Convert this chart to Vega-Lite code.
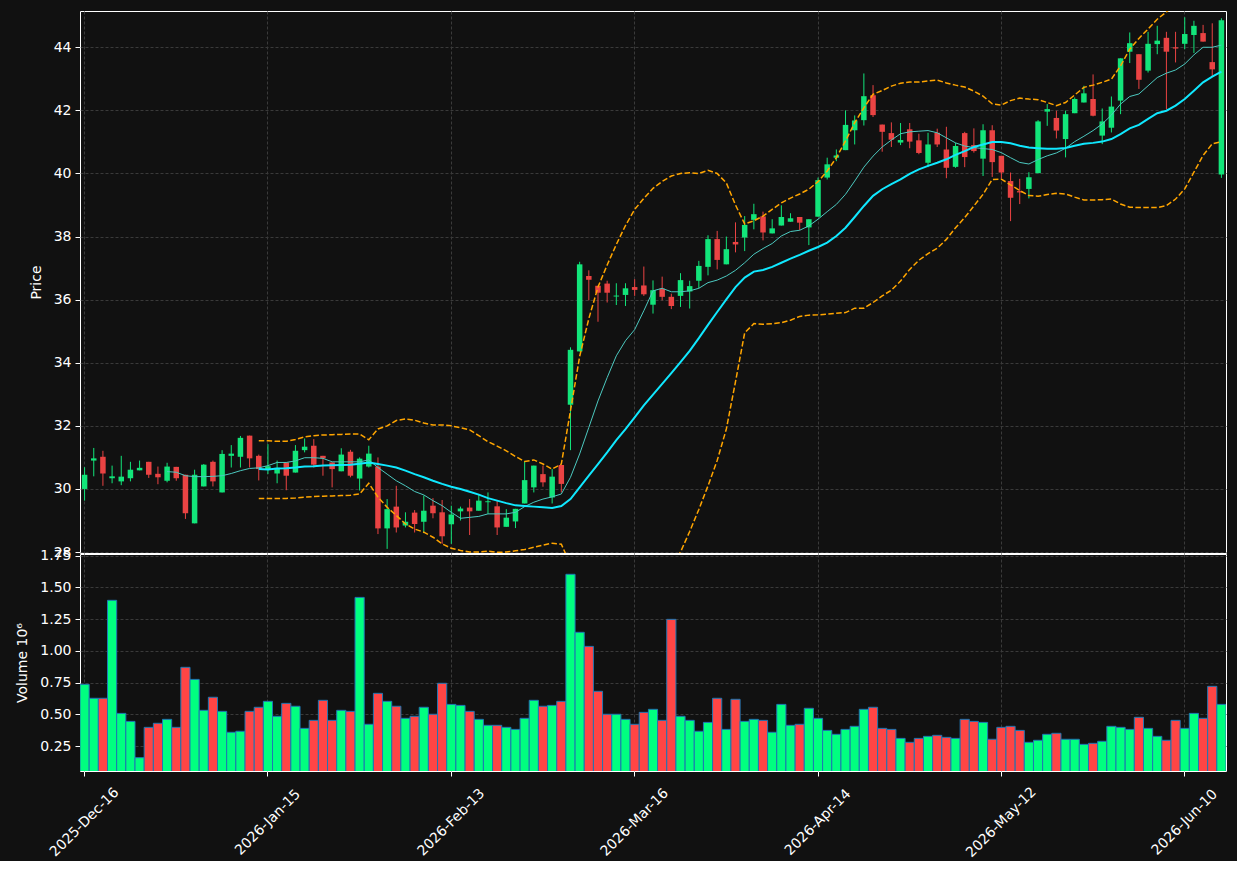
{
"$schema":"https://vega.github.io/schema/vega-lite/v6.json",
"background":"#111111",
"padding":{"left":15,"top":10,"right":11,"bottom":0},
"bounds":"flush",
"datasets":{"px":[
{"d":"2025-Dec-16","o":30.00,"h":30.69,"l":29.63,"c":30.45,"v":0.736},
{"d":"2025-Dec-17","o":30.90,"h":31.30,"l":30.40,"c":30.97,"v":0.626},
{"d":"2025-Dec-18","o":31.02,"h":31.21,"l":30.10,"c":30.49,"v":0.626},
{"d":"2025-Dec-19","o":30.34,"h":30.74,"l":30.18,"c":30.40,"v":1.398},
{"d":"2025-Dec-22","o":30.24,"h":31.05,"l":30.12,"c":30.39,"v":0.507},
{"d":"2025-Dec-23","o":30.34,"h":30.86,"l":30.24,"c":30.61,"v":0.444},
{"d":"2025-Dec-24","o":30.59,"h":30.90,"l":30.59,"c":30.67,"v":0.158},
{"d":"2025-Dec-26","o":30.86,"h":30.86,"l":30.35,"c":30.45,"v":0.397},
{"d":"2025-Dec-29","o":30.48,"h":30.71,"l":30.15,"c":30.37,"v":0.429},
{"d":"2025-Dec-30","o":30.26,"h":30.83,"l":30.21,"c":30.71,"v":0.460,"m10":30.55},
{"d":"2025-Dec-31","o":30.70,"h":30.70,"l":30.26,"c":30.34,"v":0.397,"m10":30.53},
{"d":"2026-Jan-02","o":30.45,"h":30.45,"l":29.05,"c":29.23,"v":0.870,"m10":30.42},
{"d":"2026-Jan-05","o":28.91,"h":30.61,"l":28.91,"c":30.45,"v":0.775,"m10":30.39},
{"d":"2026-Jan-06","o":30.08,"h":30.79,"l":30.08,"c":30.77,"v":0.531,"m10":30.39},
{"d":"2026-Jan-07","o":30.86,"h":30.90,"l":30.08,"c":30.24,"v":0.634,"m10":30.40},
{"d":"2026-Jan-08","o":29.89,"h":31.23,"l":29.89,"c":31.11,"v":0.523,"m10":30.42},
{"d":"2026-Jan-09","o":31.05,"h":31.39,"l":30.68,"c":31.12,"v":0.358,"m10":30.49},
{"d":"2026-Jan-12","o":31.02,"h":31.68,"l":30.68,"c":31.62,"v":0.366,"m10":30.58},
{"d":"2026-Jan-13","o":31.69,"h":31.69,"l":30.68,"c":30.97,"v":0.523,"m10":30.65},
{"d":"2026-Jan-14","o":31.05,"h":31.09,"l":30.27,"c":30.63,"v":0.555,"m10":30.67,"m20":30.63,"bu":31.53,"bl":29.70},
{"d":"2026-Jan-15","o":30.63,"h":31.42,"l":30.47,"c":30.72,"v":0.602,"m10":30.74,"m20":30.62,"bu":31.53,"bl":29.70},
{"d":"2026-Jan-16","o":30.49,"h":30.90,"l":30.18,"c":30.67,"v":0.484,"m10":30.84,"m20":30.65,"bu":31.51,"bl":29.70},
{"d":"2026-Jan-20","o":30.84,"h":30.84,"l":29.96,"c":30.42,"v":0.586,"m10":30.84,"m20":30.66,"bu":31.51,"bl":29.70},
{"d":"2026-Jan-21","o":30.52,"h":31.39,"l":30.52,"c":31.21,"v":0.563,"m10":30.89,"m20":30.68,"bu":31.57,"bl":29.71},
{"d":"2026-Jan-22","o":31.23,"h":31.60,"l":31.16,"c":31.34,"v":0.389,"m10":30.99,"m20":30.71,"bu":31.65,"bl":29.74},
{"d":"2026-Jan-23","o":31.37,"h":31.58,"l":30.68,"c":30.77,"v":0.452,"m10":30.99,"m20":30.72,"bu":31.69,"bl":29.76},
{"d":"2026-Jan-26","o":31.05,"h":31.05,"l":30.42,"c":30.97,"v":0.610,"m10":30.97,"m20":30.74,"bu":31.71,"bl":29.77},
{"d":"2026-Jan-27","o":30.84,"h":30.84,"l":30.05,"c":30.63,"v":0.452,"m10":30.86,"m20":30.75,"bu":31.72,"bl":29.78},
{"d":"2026-Jan-28","o":30.56,"h":31.29,"l":30.56,"c":31.09,"v":0.531,"m10":30.86,"m20":30.76,"bu":31.73,"bl":29.79},
{"d":"2026-Jan-29","o":31.18,"h":31.24,"l":30.37,"c":30.42,"v":0.523,"m10":30.86,"m20":30.77,"bu":31.74,"bl":29.80},
{"d":"2026-Jan-30","o":30.33,"h":31.00,"l":29.95,"c":30.96,"v":1.421,"m10":30.86,"m20":30.80,"bu":31.74,"bl":29.84},
{"d":"2026-Feb-02","o":30.71,"h":31.37,"l":30.68,"c":31.12,"v":0.421,"m10":30.92,"m20":30.84,"bu":31.56,"bl":30.18},
{"d":"2026-Feb-03","o":30.71,"h":31.00,"l":28.57,"c":28.75,"v":0.665,"m10":30.68,"m20":30.79,"bu":31.90,"bl":29.74},
{"d":"2026-Feb-04","o":28.75,"h":29.68,"l":28.10,"c":29.36,"v":0.602,"m10":30.47,"m20":30.74,"bu":32.00,"bl":29.42},
{"d":"2026-Feb-05","o":29.44,"h":30.10,"l":28.62,"c":28.78,"v":0.563,"m10":30.26,"m20":30.68,"bu":32.17,"bl":29.16},
{"d":"2026-Feb-06","o":28.84,"h":29.26,"l":28.78,"c":28.96,"v":0.468,"m10":30.10,"m20":30.58,"bu":32.22,"bl":28.89},
{"d":"2026-Feb-09","o":29.25,"h":29.33,"l":28.62,"c":28.89,"v":0.484,"m10":29.92,"m20":30.47,"bu":32.18,"bl":28.73},
{"d":"2026-Feb-10","o":28.96,"h":29.79,"l":28.60,"c":29.31,"v":0.555,"m10":29.81,"m20":30.37,"bu":32.09,"bl":28.63},
{"d":"2026-Feb-11","o":29.47,"h":29.71,"l":29.07,"c":29.23,"v":0.500,"m10":29.63,"m20":30.26,"bu":32.03,"bl":28.47},
{"d":"2026-Feb-12","o":29.26,"h":29.65,"l":28.26,"c":28.50,"v":0.744,"m10":29.47,"m20":30.16,"bu":32.03,"bl":28.26},
{"d":"2026-Feb-13","o":28.88,"h":29.47,"l":28.26,"c":29.19,"v":0.578,"m10":29.26,"m20":30.07,"bu":32.00,"bl":28.12},
{"d":"2026-Feb-17","o":29.29,"h":29.44,"l":29.00,"c":29.38,"v":0.570,"m10":29.07,"m20":30.00,"bu":31.94,"bl":28.05},
{"d":"2026-Feb-18","o":29.41,"h":29.68,"l":28.54,"c":29.29,"v":0.523,"m10":29.10,"m20":29.91,"bu":31.87,"bl":28.00},
{"d":"2026-Feb-19","o":29.31,"h":29.81,"l":29.31,"c":29.63,"v":0.460,"m10":29.13,"m20":29.82,"bu":31.69,"bl":28.00},
{"d":"2026-Feb-20","o":29.58,"h":29.89,"l":29.21,"c":29.61,"v":0.413,"m10":29.21,"m20":29.71,"bu":31.50,"bl":28.03},
{"d":"2026-Feb-23","o":29.45,"h":29.63,"l":28.54,"c":28.78,"v":0.413,"m10":29.21,"m20":29.63,"bu":31.36,"bl":27.99},
{"d":"2026-Feb-24","o":28.80,"h":29.36,"l":28.80,"c":29.09,"v":0.397,"m10":29.21,"m20":29.55,"bu":31.21,"bl":28.00},
{"d":"2026-Feb-25","o":28.97,"h":29.37,"l":28.76,"c":29.37,"v":0.381,"m10":29.26,"m20":29.48,"bu":31.03,"bl":28.04},
{"d":"2026-Feb-26","o":29.54,"h":30.87,"l":29.54,"c":30.28,"v":0.468,"m10":29.44,"m20":29.46,"bu":30.87,"bl":28.08},
{"d":"2026-Feb-27","o":30.05,"h":30.74,"l":29.89,"c":30.74,"v":0.610,"m10":29.58,"m20":29.44,"bu":30.92,"bl":28.15},
{"d":"2026-Mar-02","o":30.47,"h":30.74,"l":30.07,"c":30.21,"v":0.563,"m10":29.68,"m20":29.42,"bu":30.79,"bl":28.22},
{"d":"2026-Mar-03","o":29.73,"h":30.63,"l":29.54,"c":30.39,"v":0.570,"m10":29.75,"m20":29.40,"bu":30.63,"bl":28.28},
{"d":"2026-Mar-04","o":30.76,"h":30.76,"l":29.89,"c":30.16,"v":0.602,"m10":29.84,"m20":29.46,"bu":30.79,"bl":28.25},
{"d":"2026-Mar-05","o":32.67,"h":34.49,"l":31.23,"c":34.41,"v":1.603,"m10":30.37,"m20":29.68,"bu":32.48,"bl":27.60},
{"d":"2026-Mar-06","o":34.36,"h":37.20,"l":34.36,"c":37.12,"v":1.146,"m10":31.11,"m20":30.05,"bu":34.20,"bl":26.80},
{"d":"2026-Mar-09","o":36.75,"h":36.93,"l":35.98,"c":36.63,"v":1.035,"m10":31.95,"m20":30.42,"bu":35.40,"bl":26.00},
{"d":"2026-Mar-10","o":36.44,"h":36.44,"l":35.30,"c":36.22,"v":0.681,"m10":32.79,"m20":30.79,"bu":36.40,"bl":25.60},
{"d":"2026-Mar-11","o":36.51,"h":36.60,"l":35.91,"c":36.22,"v":0.500,"m10":33.53,"m20":31.16,"bu":37.10,"bl":25.40},
{"d":"2026-Mar-12","o":36.10,"h":36.52,"l":35.83,"c":36.13,"v":0.500,"m10":34.22,"m20":31.55,"bu":37.75,"bl":25.40},
{"d":"2026-Mar-13","o":36.15,"h":36.52,"l":35.80,"c":36.36,"v":0.460,"m10":34.70,"m20":31.90,"bu":38.35,"bl":25.60},
{"d":"2026-Mar-16","o":36.40,"h":36.65,"l":36.12,"c":36.31,"v":0.421,"m10":35.05,"m20":32.27,"bu":38.86,"bl":25.90},
{"d":"2026-Mar-17","o":36.45,"h":37.05,"l":36.12,"c":36.17,"v":0.515,"m10":35.65,"m20":32.65,"bu":39.21,"bl":26.30},
{"d":"2026-Mar-18","o":35.84,"h":36.61,"l":35.56,"c":36.30,"v":0.539,"m10":36.28,"m20":32.99,"bu":39.53,"bl":26.70},
{"d":"2026-Mar-19","o":36.35,"h":36.73,"l":35.98,"c":36.09,"v":0.452,"m10":36.36,"m20":33.33,"bu":39.75,"bl":27.10},
{"d":"2026-Mar-20","o":36.09,"h":36.19,"l":35.70,"c":35.80,"v":1.248,"m10":36.25,"m20":33.67,"bu":39.92,"bl":27.60},
{"d":"2026-Mar-23","o":36.12,"h":36.84,"l":35.77,"c":36.62,"v":0.484,"m10":36.25,"m20":34.02,"bu":40.00,"bl":28.00},
{"d":"2026-Mar-24","o":36.26,"h":36.60,"l":35.72,"c":36.43,"v":0.452,"m10":36.28,"m20":34.38,"bu":40.02,"bl":28.65},
{"d":"2026-Mar-25","o":36.60,"h":37.23,"l":36.36,"c":37.07,"v":0.366,"m10":36.36,"m20":34.78,"bu":40.00,"bl":29.35},
{"d":"2026-Mar-26","o":37.04,"h":38.04,"l":36.77,"c":37.92,"v":0.436,"m10":36.54,"m20":35.20,"bu":40.10,"bl":30.10},
{"d":"2026-Mar-27","o":37.92,"h":38.18,"l":36.96,"c":37.26,"v":0.626,"m10":36.62,"m20":35.61,"bu":40.00,"bl":30.90},
{"d":"2026-Mar-30","o":37.12,"h":38.00,"l":37.12,"c":37.60,"v":0.381,"m10":36.75,"m20":36.01,"bu":39.70,"bl":31.90},
{"d":"2026-Mar-31","o":37.83,"h":38.45,"l":37.50,"c":37.75,"v":0.618,"m10":36.93,"m20":36.40,"bu":39.00,"bl":33.40},
{"d":"2026-Apr-01","o":37.97,"h":38.65,"l":37.54,"c":38.37,"v":0.444,"m10":37.17,"m20":36.70,"bu":38.40,"bl":34.95},
{"d":"2026-Apr-02","o":38.53,"h":39.04,"l":38.23,"c":38.71,"v":0.460,"m10":37.44,"m20":36.89,"bu":38.50,"bl":35.24},
{"d":"2026-Apr-06","o":38.64,"h":38.79,"l":37.88,"c":38.13,"v":0.452,"m10":37.62,"m20":36.94,"bu":38.65,"bl":35.22},
{"d":"2026-Apr-07","o":38.10,"h":38.55,"l":38.10,"c":38.26,"v":0.358,"m10":37.78,"m20":37.04,"bu":38.86,"bl":35.24},
{"d":"2026-Apr-08","o":38.35,"h":38.99,"l":38.35,"c":38.62,"v":0.578,"m10":38.02,"m20":37.17,"bu":39.07,"bl":35.27},
{"d":"2026-Apr-09","o":38.47,"h":38.74,"l":38.47,"c":38.58,"v":0.413,"m10":38.16,"m20":37.30,"bu":39.22,"bl":35.35},
{"d":"2026-Apr-10","o":38.62,"h":38.62,"l":38.20,"c":38.44,"v":0.421,"m10":38.20,"m20":37.42,"bu":39.35,"bl":35.47},
{"d":"2026-Apr-13","o":38.29,"h":38.55,"l":37.73,"c":38.55,"v":0.547,"m10":38.34,"m20":37.55,"bu":39.50,"bl":35.51},
{"d":"2026-Apr-14","o":38.63,"h":39.87,"l":38.63,"c":39.79,"v":0.468,"m10":38.55,"m20":37.67,"bu":39.74,"bl":35.52},
{"d":"2026-Apr-15","o":39.87,"h":40.50,"l":39.81,"c":40.29,"v":0.373,"m10":38.79,"m20":37.81,"bu":40.08,"bl":35.54},
{"d":"2026-Apr-16","o":40.50,"h":40.76,"l":40.39,"c":40.57,"v":0.342,"m10":39.02,"m20":38.02,"bu":40.50,"bl":35.57},
{"d":"2026-Apr-17","o":40.74,"h":42.00,"l":40.74,"c":41.54,"v":0.381,"m10":39.34,"m20":38.28,"bu":41.03,"bl":35.59},
{"d":"2026-Apr-20","o":41.37,"h":41.84,"l":40.92,"c":41.68,"v":0.405,"m10":39.76,"m20":38.62,"bu":41.61,"bl":35.73},
{"d":"2026-Apr-21","o":41.69,"h":43.17,"l":41.52,"c":42.45,"v":0.539,"m10":40.20,"m20":38.97,"bu":42.08,"bl":35.73},
{"d":"2026-Apr-22","o":42.48,"h":42.80,"l":41.79,"c":41.85,"v":0.555,"m10":40.55,"m20":39.29,"bu":42.51,"bl":35.91},
{"d":"2026-Apr-23","o":41.55,"h":41.55,"l":40.69,"c":41.32,"v":0.389,"m10":40.84,"m20":39.50,"bu":42.63,"bl":36.12},
{"d":"2026-Apr-24","o":41.28,"h":41.62,"l":40.84,"c":41.07,"v":0.381,"m10":41.06,"m20":39.66,"bu":42.77,"bl":36.30},
{"d":"2026-Apr-27","o":40.98,"h":41.60,"l":40.90,"c":41.06,"v":0.310,"m10":41.26,"m20":39.81,"bu":42.86,"bl":36.59},
{"d":"2026-Apr-28","o":41.40,"h":41.60,"l":40.80,"c":41.01,"v":0.279,"m10":41.32,"m20":39.99,"bu":42.90,"bl":36.96},
{"d":"2026-Apr-29","o":41.05,"h":41.26,"l":40.61,"c":40.65,"v":0.310,"m10":41.34,"m20":40.13,"bu":42.90,"bl":37.25},
{"d":"2026-Apr-30","o":40.34,"h":41.29,"l":40.20,"c":40.92,"v":0.326,"m10":41.36,"m20":40.24,"bu":42.93,"bl":37.46},
{"d":"2026-May-01","o":41.29,"h":41.42,"l":40.84,"c":40.92,"v":0.334,"m10":41.29,"m20":40.34,"bu":42.96,"bl":37.63},
{"d":"2026-May-04","o":40.76,"h":41.48,"l":39.85,"c":40.18,"v":0.318,"m10":41.13,"m20":40.45,"bu":42.87,"bl":37.91},
{"d":"2026-May-05","o":40.21,"h":40.97,"l":40.18,"c":40.87,"v":0.310,"m10":40.97,"m20":40.59,"bu":42.80,"bl":38.28},
{"d":"2026-May-06","o":41.28,"h":41.32,"l":40.20,"c":40.52,"v":0.460,"m10":40.87,"m20":40.71,"bu":42.74,"bl":38.60},
{"d":"2026-May-07","o":40.90,"h":41.43,"l":40.66,"c":40.71,"v":0.444,"m10":40.82,"m20":40.84,"bu":42.61,"bl":38.97},
{"d":"2026-May-08","o":40.47,"h":41.56,"l":39.92,"c":41.37,"v":0.436,"m10":40.79,"m20":40.92,"bu":42.45,"bl":39.34},
{"d":"2026-May-11","o":41.37,"h":41.53,"l":39.89,"c":40.36,"v":0.303,"m10":40.76,"m20":41.00,"bu":42.21,"bl":39.81},
{"d":"2026-May-12","o":40.56,"h":40.56,"l":39.84,"c":40.03,"v":0.397,"m10":40.66,"m20":41.00,"bu":42.17,"bl":39.82},
{"d":"2026-May-13","o":39.76,"h":40.03,"l":38.49,"c":39.23,"v":0.405,"m10":40.50,"m20":40.96,"bu":42.31,"bl":39.64},
{"d":"2026-May-14","o":39.44,"h":39.83,"l":39.03,"c":39.40,"v":0.373,"m10":40.35,"m20":40.88,"bu":42.39,"bl":39.46},
{"d":"2026-May-15","o":39.51,"h":40.04,"l":39.21,"c":39.88,"v":0.279,"m10":40.30,"m20":40.82,"bu":42.36,"bl":39.30},
{"d":"2026-May-18","o":40.01,"h":41.69,"l":40.01,"c":41.65,"v":0.295,"m10":40.44,"m20":40.80,"bu":42.34,"bl":39.28},
{"d":"2026-May-19","o":41.96,"h":42.20,"l":41.51,"c":42.04,"v":0.342,"m10":40.56,"m20":40.78,"bu":42.25,"bl":39.33},
{"d":"2026-May-20","o":41.76,"h":41.99,"l":41.11,"c":41.36,"v":0.350,"m10":40.65,"m20":40.78,"bu":42.15,"bl":39.37},
{"d":"2026-May-21","o":41.09,"h":41.99,"l":40.51,"c":41.88,"v":0.303,"m10":40.80,"m20":40.81,"bu":42.25,"bl":39.35},
{"d":"2026-May-22","o":41.91,"h":42.41,"l":41.91,"c":42.36,"v":0.303,"m10":41.01,"m20":40.88,"bu":42.49,"bl":39.25},
{"d":"2026-May-26","o":42.25,"h":42.78,"l":42.25,"c":42.54,"v":0.263,"m10":41.18,"m20":40.94,"bu":42.73,"bl":39.16},
{"d":"2026-May-27","o":42.36,"h":43.14,"l":41.81,"c":41.83,"v":0.271,"m10":41.36,"m20":40.97,"bu":42.80,"bl":39.16},
{"d":"2026-May-28","o":41.20,"h":42.06,"l":40.93,"c":41.65,"v":0.287,"m10":41.57,"m20":41.01,"bu":42.89,"bl":39.17},
{"d":"2026-May-29","o":41.45,"h":42.44,"l":41.30,"c":42.12,"v":0.405,"m10":41.85,"m20":41.09,"bu":42.99,"bl":39.19},
{"d":"2026-Jun-01","o":42.31,"h":43.65,"l":41.88,"c":43.65,"v":0.397,"m10":42.20,"m20":41.25,"bu":43.41,"bl":39.03},
{"d":"2026-Jun-02","o":43.86,"h":44.47,"l":43.50,"c":44.13,"v":0.381,"m10":42.44,"m20":41.43,"bu":43.94,"bl":38.93},
{"d":"2026-Jun-03","o":43.78,"h":43.78,"l":42.68,"c":42.97,"v":0.476,"m10":42.52,"m20":41.54,"bu":44.28,"bl":38.92},
{"d":"2026-Jun-04","o":43.26,"h":44.49,"l":43.20,"c":44.11,"v":0.389,"m10":42.78,"m20":41.73,"bu":44.58,"bl":38.92},
{"d":"2026-Jun-05","o":44.10,"h":44.68,"l":43.78,"c":44.21,"v":0.326,"m10":43.04,"m20":41.91,"bu":44.89,"bl":38.92},
{"d":"2026-Jun-08","o":44.30,"h":44.49,"l":42.04,"c":43.86,"v":0.295,"m10":43.18,"m20":41.99,"bu":45.12,"bl":38.98},
{"d":"2026-Jun-09","o":44.00,"h":44.49,"l":43.52,"c":43.96,"v":0.452,"m10":43.28,"m20":42.15,"bu":45.35,"bl":39.19},
{"d":"2026-Jun-10","o":44.11,"h":44.95,"l":43.94,"c":44.42,"v":0.389,"m10":43.47,"m20":42.36,"bu":45.55,"bl":39.51},
{"d":"2026-Jun-11","o":44.39,"h":44.84,"l":43.82,"c":44.68,"v":0.507,"m10":43.76,"m20":42.62,"bu":45.70,"bl":40.04},
{"d":"2026-Jun-12","o":44.45,"h":44.71,"l":44.18,"c":44.18,"v":0.468,"m10":44.00,"m20":42.89,"bu":45.80,"bl":40.57},
{"d":"2026-Jun-15","o":43.53,"h":44.76,"l":43.09,"c":43.30,"v":0.720,"m10":44.00,"m20":43.07,"bu":45.90,"bl":40.94},
{"d":"2026-Jun-16","o":39.97,"h":44.92,"l":39.86,"c":44.86,"v":0.578,"m10":44.07,"m20":43.23,"bu":46.00,"bl":41.01}
]},
"data":{"name":"px"},
"spacing":1,
"vconcat":[
{
"width":1146,"height":542,
"encoding":{"x":{"field":"d","type":"ordinal","sort":null,"scale":{"paddingInner":0,"paddingOuter":0},
 "axis":{"values":["2025-Dec-16","2026-Jan-15","2026-Feb-13","2026-Mar-16","2026-Apr-14","2026-May-12","2026-Jun-10"],"labels":false,"ticks":false,"domain":false,"title":null,"grid":true}}},
"layer":[
{"mark":{"type":"rule","strokeWidth":1,"clip":true},
 "encoding":{"y":{"field":"l","type":"quantitative","title":"Price","scale":{"domain":[27.97,45.15],"zero":false,"nice":false},"axis":{"values":[28,30,32,34,36,38,40,42,44]}},
  "y2":{"field":"h"},
  "color":{"condition":{"test":"datum.c >= datum.o","value":"#12e57a"},"value":"#ea4343"}}},
{"mark":{"type":"bar","width":{"band":0.6},"clip":true},
 "encoding":{"y":{"field":"o","type":"quantitative","title":"Price"},"y2":{"field":"c"},
  "color":{"condition":{"test":"datum.c >= datum.o","value":"#12e57a"},"value":"#ea4343"}}},
{"mark":{"type":"line","strokeWidth":1,"color":"#4cc9c0","clip":true},
 "encoding":{"y":{"field":"m10","type":"quantitative","title":"Price"}}},
{"mark":{"type":"line","strokeWidth":2,"color":"#10e8ff","clip":true},
 "encoding":{"y":{"field":"m20","type":"quantitative","title":"Price"}}},
{"mark":{"type":"line","strokeWidth":1.5,"color":"#ffa500","strokeDash":[5.5,2.4],"clip":true},
 "encoding":{"y":{"field":"bu","type":"quantitative","title":"Price"}}},
{"mark":{"type":"line","strokeWidth":1.5,"color":"#ffa500","strokeDash":[5.5,2.4],"clip":true},
 "encoding":{"y":{"field":"bl","type":"quantitative","title":"Price"}}}
]
},
{
"width":1146,"height":217,
"mark":{"type":"bar","width":{"band":1},"stroke":"#1f77b4","strokeWidth":1,"clip":true},
"encoding":{
 "x":{"field":"d","type":"ordinal","sort":null,"scale":{"paddingInner":0,"paddingOuter":0},
  "axis":{"values":["2025-Dec-16","2026-Jan-15","2026-Feb-13","2026-Mar-16","2026-Apr-14","2026-May-12","2026-Jun-10"],"title":null,"grid":true,"labelAngle":-45,"labelAlign":"center","labelBaseline":"middle","labelPadding":46,"domain":false}},
 "y":{"field":"v","type":"quantitative","title":"Volume  10⁶","scale":{"domain":[0.053,1.763],"zero":false,"nice":false},"axis":{"values":[0.25,0.5,0.75,1.0,1.25,1.5,1.75],"format":".2f"}},
 "color":{"condition":{"test":"datum.c >= datum.o","value":"#00ff80"},"value":"#ff4545"}
}
}
],
"config":{
 "view":{"stroke":"#ffffff","strokeWidth":1},
 "axis":{"labelColor":"#ffffff","titleColor":"#ffffff","labelFont":"DejaVu Sans","titleFont":"DejaVu Sans","labelFontSize":14,"titleFontSize":14,"titleFontWeight":"normal","tickColor":"#ffffff","tickSize":5,"domain":false,"gridColor":"#3a3a3a","gridDash":[3,2],"gridWidth":1,"labelPadding":4,"titlePadding":10}
}
}
